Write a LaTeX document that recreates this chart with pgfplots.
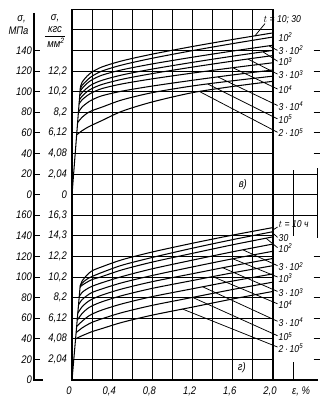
\documentclass[border=0pt]{standalone}
\usepackage{fontspec}
\setmainfont{Liberation Sans}[FakeStretch=0.86]
\usepackage{pgfplots}
\pgfplotsset{compat=1.18}
\tikzset{lab/.style={anchor=west, inner sep=0.5pt, font=\fontsize{10}{10}\selectfont\itshape}}
\begin{document}
\begin{tikzpicture}[font=\fontsize{11}{12}\selectfont\itshape]
\useasboundingbox (-72pt,-29pt) rectangle (258pt,380pt);
\pgfplotsset{
 panel/.style={
  x=100.5pt, y=1.03pt, xmin=0, xmax=2.0, ymin=0, ymax=180,
  anchor=south west, clip=false,
  xtick={0,0.2,...,2.0}, ytick={0,20,...,180},
  grid=major, grid style={black, line width=0.95pt},
  axis line style={black, line width=1.1pt},
  major tick length=0pt,
  yticklabels={},
 },
 crv/.style={black, line width=1.05pt, smooth, no marks},
 ldr/.style={black, line width=0.75pt, sharp plot, no marks},
}
% ---------------- bottom panel (g) ----------------
\begin{axis}[panel, at={(0pt,0pt)},
  xticklabels={0,,{0,4},,{0,8},,{1,2},,{1,6},,{2,0}},
  xticklabel style={yshift=-3pt, xshift=-3pt, font=\fontsize{11}{12}\selectfont\itshape}]
\addplot[crv, sharp plot] coordinates {(0,0) (0.081,91)};
\addplot[crv] coordinates {(0.081,91) (0.1,96) (0.15,102) (0.2,106) (0.3,110) (0.5,116.8) (0.8,124.3) (1.2,132.8) (1.6,140.7) (2.0,148)};
\addplot[crv] coordinates {(0.081,91) (0.1,94) (0.15,98) (0.2,100.5) (0.3,104.5) (0.5,111.5) (0.8,119) (1.2,128) (1.6,136.3) (2.0,144)};
\addplot[crv] coordinates {(0.08,90) (0.1,92) (0.15,95) (0.2,97.5) (0.3,100.5) (0.5,107) (0.8,114.5) (1.2,123) (1.6,131.3) (2.0,139)};
\addplot[crv] coordinates {(0.072,81) (0.1,85) (0.15,88.5) (0.2,91) (0.3,94.5) (0.5,100.5) (0.8,108) (1.2,116.4) (1.6,124.5) (2.0,132)};
\addplot[crv] coordinates {(0.065,73) (0.1,78) (0.15,82) (0.2,85) (0.3,88.5) (0.5,94.5) (0.8,101.5) (1.2,109.8) (1.6,117.7) (2.0,125)};
\addplot[crv] coordinates {(0.058,65) (0.1,71) (0.15,75.5) (0.2,78.5) (0.3,82.5) (0.5,88.5) (0.8,95.5) (1.2,103.2) (1.6,110.9) (2.0,118)};
\addplot[crv] coordinates {(0.052,58) (0.1,64.5) (0.15,69) (0.2,72) (0.3,76) (0.5,82) (0.8,89) (1.2,96.6) (1.6,104.1) (2.0,111)};
\addplot[crv] coordinates {(0.046,52) (0.1,57) (0.15,61) (0.2,64) (0.3,68) (0.5,74) (0.8,81) (1.2,88.6) (1.6,96.1) (2.0,103)};
\addplot[crv] coordinates {(0.041,46) (0.1,50.5) (0.15,53.5) (0.2,56) (0.3,59.5) (0.5,65.5) (0.8,72.5) (1.2,80.2) (1.6,87.9) (2.0,95)};
\addplot[crv] coordinates {(0.036,40) (0.1,43) (0.15,45) (0.2,47) (0.3,50) (0.5,56) (0.8,63) (1.2,70.8) (1.6,78.7) (2.0,86)};
% leaders
\addplot[ldr] coordinates {(2.045,148.5) (2.005,146)};
\addplot[ldr] coordinates {(2.045,138.5) (1.99,143.4)};
\addplot[ldr] coordinates {(2.045,128.5) (1.93,137.7)};
\addplot[ldr] coordinates {(2.045,111) (1.7,126.4)};
\addplot[ldr] coordinates {(2.045,100) (1.6,117.7)};
\addplot[ldr] coordinates {(2.045,86) (1.5,109)};
\addplot[ldr] coordinates {(2.045,74) (1.4,100.4)};
\addplot[ldr] coordinates {(2.045,57) (1.3,90.5)};
\addplot[ldr] coordinates {(2.045,43) (1.2,80.2)};
\addplot[ldr] coordinates {(2.045,32) (1.1,68.9)};
% labels
\node[lab] at (axis cs:2.05,151) {$t$ = 10 ч};
\node[lab] at (axis cs:2.05,138) {30};
\node[lab] at (axis cs:2.05,128) {10\textsuperscript{2}};
\node[lab] at (axis cs:2.05,110) {3\,·\,10\textsuperscript{2}};
\node[lab] at (axis cs:2.05,99) {10\textsuperscript{3}};
\node[lab] at (axis cs:2.05,85) {3\,·\,10\textsuperscript{3}};
\node[lab] at (axis cs:2.05,73) {10\textsuperscript{4}};
\node[lab] at (axis cs:2.05,56) {3\,·\,10\textsuperscript{4}};
\node[lab] at (axis cs:2.05,42) {10\textsuperscript{5}};
\node[lab] at (axis cs:2.05,31) {2\,·\,10\textsuperscript{5}};
\node at (axis cs:1.69,11.7) {г)};
% right margin
\draw[line width=1.1pt] (axis cs:2.0,0) -- (axis cs:2.45,0);
\draw[line width=0.95pt] (axis cs:2.0,160) -- (axis cs:2.44,160);
\draw[line width=0.95pt] (axis cs:2.2,140) -- (axis cs:2.2,180);
\draw[line width=0.95pt] (axis cs:2.44,138) -- (axis cs:2.44,180);
\draw[line width=0.95pt] (axis cs:2.2,0) -- (axis cs:2.2,17);
\draw[line width=0.95pt] (axis cs:2.405,20) -- (axis cs:2.465,20) (axis cs:2.405,40) -- (axis cs:2.465,40)
  (axis cs:2.405,60) -- (axis cs:2.465,60) (axis cs:2.405,80) -- (axis cs:2.465,80)
  (axis cs:2.405,100) -- (axis cs:2.465,100) (axis cs:2.405,120) -- (axis cs:2.465,120);
\node at (axis cs:2.28,0) [yshift=-11pt] {ε, \%};
\end{axis}
% ---------------- top panel (v) ----------------
\begin{axis}[panel, at={(0pt,185.4pt)}, xticklabels={}]
\addplot[crv, sharp plot] coordinates {(0,0) (0.083,104)};
\addplot[crv] coordinates {(0.083,104) (0.1,109) (0.15,115) (0.2,119) (0.3,124) (0.5,129.9) (0.8,136.4) (1.2,143.8) (1.6,150.6) (2.0,157)};
\addplot[crv] coordinates {(0.082,102) (0.1,106) (0.15,111) (0.2,115) (0.3,120) (0.5,125.9) (0.8,132.4) (1.2,139.8) (1.6,146.6) (2.0,153)};
\addplot[crv] coordinates {(0.08,100) (0.1,103) (0.15,108) (0.2,111.5) (0.3,116) (0.5,121.2) (0.8,126.9) (1.2,133.4) (1.6,139.4) (2.0,145)};
\addplot[crv] coordinates {(0.077,96) (0.1,99) (0.15,103.5) (0.2,107) (0.3,111) (0.5,116.2) (0.8,121.9) (1.2,128.4) (1.6,134.4) (2.0,140)};
\addplot[crv] coordinates {(0.074,92) (0.1,95.5) (0.15,100) (0.2,103) (0.3,107) (0.5,112) (0.8,117.5) (1.2,123.8) (1.6,129.6) (2.0,135)};
\addplot[crv] coordinates {(0.07,88) (0.1,92) (0.15,96) (0.2,99) (0.3,103) (0.5,107.5) (0.8,112.4) (1.2,118) (1.6,123.2) (2.0,128)};
\addplot[crv] coordinates {(0.064,80) (0.1,85) (0.15,89) (0.2,92) (0.3,96) (0.5,100.5) (0.8,105.4) (1.2,111) (1.6,116.2) (2.0,121)};
\addplot[crv] coordinates {(0.056,70) (0.1,75) (0.15,79) (0.2,81.5) (0.3,85) (0.5,92) (0.8,99) (1.2,105.5) (1.6,110.5) (2.0,115)};
\addplot[crv] coordinates {(0.046,58) (0.1,62) (0.15,65) (0.2,67.5) (0.3,72) (0.5,81) (0.8,90) (1.2,99) (1.6,105) (2.0,110)};
% leaders
\addplot[ldr] coordinates {(1.92,166) (1.82,154.1)};
\addplot[ldr] coordinates {(2.045,140) (1.96,144.4)};
\addplot[ldr] coordinates {(2.045,129.5) (1.9,138.6)};
\addplot[ldr] coordinates {(2.045,117) (1.75,131.6)};
\addplot[ldr] coordinates {(2.045,102.5) (1.6,123.2)};
\addplot[ldr] coordinates {(2.045,86.5) (1.45,114.3)};
\addplot[ldr] coordinates {(2.045,73.5) (1.35,107.4)};
\addplot[ldr] coordinates {(2.045,60.5) (1.27,100)};
% labels
\node[lab] at (axis cs:1.9,170) {$t$ = 10; 30};
\node[lab] at (axis cs:2.05,153) {10\textsuperscript{2}};
\node[lab] at (axis cs:2.05,140.5) {3\,·\,10\textsuperscript{2}};
\node[lab] at (axis cs:2.05,129) {10\textsuperscript{3}};
\node[lab] at (axis cs:2.05,116.5) {3\,·\,10\textsuperscript{3}};
\node[lab] at (axis cs:2.05,102) {10\textsuperscript{4}};
\node[lab] at (axis cs:2.05,86) {3\,·\,10\textsuperscript{4}};
\node[lab] at (axis cs:2.05,73) {10\textsuperscript{5}};
\node[lab] at (axis cs:2.05,60) {2\,·\,10\textsuperscript{5}};
\node at (axis cs:1.70,9.7) {в)};
% right margin
\draw[line width=0.95pt] (axis cs:2.0,0) -- (axis cs:2.44,0);
\draw[line width=0.95pt] (axis cs:2.0,20) -- (axis cs:2.44,20);
\draw[line width=0.95pt] (axis cs:2.2,0) -- (axis cs:2.2,24);
\draw[line width=0.95pt] (axis cs:2.44,0) -- (axis cs:2.44,26);
\draw[line width=0.95pt] (axis cs:2.405,40) -- (axis cs:2.465,40) (axis cs:2.405,60) -- (axis cs:2.465,60)
  (axis cs:2.405,80) -- (axis cs:2.465,80) (axis cs:2.405,100) -- (axis cs:2.465,100)
  (axis cs:2.405,120) -- (axis cs:2.465,120) (axis cs:2.405,140) -- (axis cs:2.465,140);
\end{axis}
% ---------------- left double scale ----------------
\draw[line width=1.1pt] (-38pt,367pt) -- (-38pt,0pt) -- (-29pt,0pt);
\foreach \y in {20,40,...,160} {\draw[line width=0.9pt] (-38pt,{1.03pt*\y}) -- (-32pt,{1.03pt*\y});}
\foreach \y in {0,20,...,140} {\draw[line width=0.9pt] (-38pt,{185.4pt+1.03pt*\y}) -- (-32pt,{185.4pt+1.03pt*\y});}
% bottom panel labels
\node[anchor=east, inner sep=0pt] at (-40pt,0pt) {0};
\node[anchor=east, inner sep=0pt] at (-40pt,20.6pt) {20};
\node[anchor=east, inner sep=0pt] at (-40pt,41.2pt) {40};
\node[anchor=east, inner sep=0pt] at (-40pt,61.8pt) {60};
\node[anchor=east, inner sep=0pt] at (-40pt,82.4pt) {80};
\node[anchor=east, inner sep=0pt] at (-40pt,103pt) {100};
\node[anchor=east, inner sep=0pt] at (-40pt,123.6pt) {120};
\node[anchor=east, inner sep=0pt] at (-40pt,144.2pt) {140};
\node[anchor=east, inner sep=0pt] at (-40pt,164.8pt) {160};
\node[anchor=east, inner sep=0pt] at (-5pt,20.6pt) {2,04};
\node[anchor=east, inner sep=0pt] at (-5pt,41.2pt) {4,08};
\node[anchor=east, inner sep=0pt] at (-5pt,61.8pt) {6,12};
\node[anchor=east, inner sep=0pt] at (-5pt,82.4pt) {8,2};
\node[anchor=east, inner sep=0pt] at (-5pt,103pt) {10,2};
\node[anchor=east, inner sep=0pt] at (-5pt,123.6pt) {12,2};
\node[anchor=east, inner sep=0pt] at (-5pt,144.2pt) {14,3};
\node[anchor=east, inner sep=0pt] at (-5pt,164.8pt) {16,3};
% top panel labels
\node[anchor=east, inner sep=0pt] at (-40pt,185.4pt) {0};
\node[anchor=east, inner sep=0pt] at (-40pt,206pt) {20};
\node[anchor=east, inner sep=0pt] at (-40pt,226.6pt) {40};
\node[anchor=east, inner sep=0pt] at (-40pt,247.2pt) {60};
\node[anchor=east, inner sep=0pt] at (-40pt,267.8pt) {80};
\node[anchor=east, inner sep=0pt] at (-40pt,288.4pt) {100};
\node[anchor=east, inner sep=0pt] at (-40pt,309pt) {120};
\node[anchor=east, inner sep=0pt] at (-40pt,329.6pt) {140};
\node[anchor=east, inner sep=0pt] at (-5pt,185.4pt) {0};
\node[anchor=east, inner sep=0pt] at (-5pt,206pt) {2,04};
\node[anchor=east, inner sep=0pt] at (-5pt,226.6pt) {4,08};
\node[anchor=east, inner sep=0pt] at (-5pt,247.2pt) {6,12};
\node[anchor=east, inner sep=0pt] at (-5pt,267.8pt) {8,2};
\node[anchor=east, inner sep=0pt] at (-5pt,288.4pt) {10,2};
\node[anchor=east, inner sep=0pt] at (-5pt,309pt) {12,2};
% headers
\node at (-50.5pt,361pt) {σ,};
\node at (-53.5pt,349pt) {МПа};
\node at (-17pt,361.5pt) {σ,};
\node at (-17pt,350pt) {кгс};
\draw[line width=0.8pt] (-27pt,344pt) -- (-7pt,344pt);
\node at (-16pt,337.5pt) {мм\textsuperscript{2}};
\end{tikzpicture}
\end{document}
